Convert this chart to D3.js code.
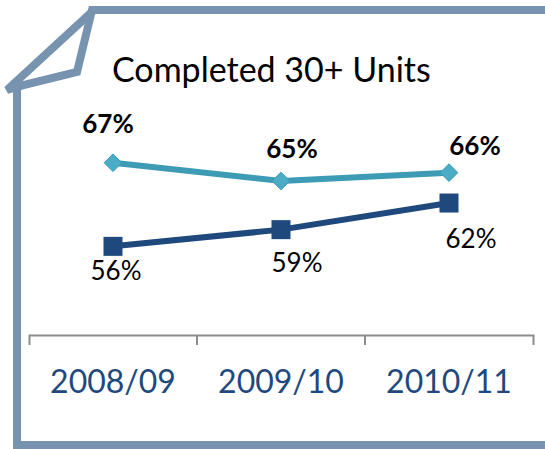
<!DOCTYPE html>
<html>
<head>
<meta charset="utf-8">
<script src="https://cdn.jsdelivr.net/npm/d3@7"></script>
<style>
  body { margin: 0; background: #fff; }
  svg { display: block; font-family: Lato, "Open Sans", sans-serif; }
</style>
</head>
<body>
<svg width="545" height="449"></svg>
<script>
var years = ["2008/09", "2009/10", "2010/11"];
var upperValues = [67.4, 65.0, 66.1];   // light teal, diamond markers
var lowerValues = [56.4, 58.6, 62.1];   // navy, square markers
var titleText = "Completed 30+ Units";

// manual label nudges (like excel hand placed labels)
var upperNudge = [[-5, -30], [11, -23], [26, -18]];
var lowerNudge = [[3, 34], [16, 42], [22, 45]];

var svg = d3.select("svg");
var frameColor = "#7793B0";

// page frame with folded corner
svg.append("path")
    .attr("d", "M600,10 L92,10 L77,72 L20,86 L17,86 L17,445 L600,445")
    .attr("fill", "none")
    .attr("stroke", frameColor)
    .attr("stroke-width", 8)
    .attr("stroke-linejoin", "miter");
svg.append("path")
    .attr("d", "M94,10 L7,90 L21,86")
    .attr("fill", "none")
    .attr("stroke", frameColor)
    .attr("stroke-width", 8)
    .attr("stroke-linejoin", "miter");

svg.append("text")
    .attr("x", 112)
    .attr("y", 82)
    .attr("font-size", 34)
    .attr("fill", "#000")
    .text(titleText);

var x = d3.scaleBand().domain(years).range([29, 533]).padding(0);
var y = d3.scaleLinear().domain([45, 70]).range([333, 143]);
var cx = function (d, i) { return x(years[i]) + x.bandwidth() / 2; };

// x axis
var axisY = 335;
var axis = svg.append("g")
    .attr("transform", "translate(0," + axisY + ")")
    .call(d3.axisBottom(x).tickSize(0).tickSizeOuter(10).tickPadding(0));
axis.select(".domain").attr("stroke", "#8c8c8c").attr("stroke-width", 2);
axis.selectAll(".tick text")
    .attr("y", 58)
    .attr("dy", 0)
    .attr("font-size", 32)
    .attr("font-family", "Lato, 'Open Sans', sans-serif")
    .attr("fill", "#1F497D");
axis.selectAll(".boundary")
    .data(years.slice(1))
    .enter()
    .append("line")
    .attr("class", "boundary")
    .attr("x1", function (d) { return x(d); })
    .attr("x2", function (d) { return x(d); })
    .attr("y1", 0)
    .attr("y2", 10)
    .attr("stroke", "#8c8c8c")
    .attr("stroke-width", 2);

var line = d3.line().x(cx).y(function (d) { return y(d); });

// lower series
svg.append("path")
    .datum(lowerValues)
    .attr("d", line)
    .attr("fill", "none")
    .attr("stroke", "#1F497D")
    .attr("stroke-width", 6);
svg.selectAll(".sq")
    .data(lowerValues)
    .enter()
    .append("rect")
    .attr("class", "sq")
    .attr("x", function (d, i) { return cx(d, i) - 9.5; })
    .attr("y", function (d) { return y(d) - 9.5; })
    .attr("width", 19)
    .attr("height", 19)
    .attr("fill", "#1F497D");

// upper series
svg.append("path")
    .datum(upperValues)
    .attr("d", line)
    .attr("fill", "none")
    .attr("stroke", "#3D9BB5")
    .attr("stroke-width", 6);
svg.selectAll(".dia")
    .data(upperValues)
    .enter()
    .append("path")
    .attr("class", "dia")
    .attr("d", d3.symbol().type(d3.symbolDiamond2).size(200))
    .attr("transform", function (d, i) { return "translate(" + cx(d, i) + "," + y(d) + ")"; })
    .attr("fill", "#4BACC6")
    .attr("stroke", "#3D9BB5")
    .attr("stroke-width", 1);

// labels
svg.selectAll(".ulab")
    .data(upperValues)
    .enter()
    .append("text")
    .attr("class", "ulab")
    .attr("x", function (d, i) { return cx(d, i) + upperNudge[i][0]; })
    .attr("y", function (d, i) { return y(d) + upperNudge[i][1]; })
    .attr("text-anchor", "middle")
    .attr("font-size", 26)
    .attr("font-weight", "bold")
    .attr("fill", "#000")
    .text(function (d) { return Math.round(d) + "%"; });

svg.selectAll(".llab")
    .data(lowerValues)
    .enter()
    .append("text")
    .attr("class", "llab")
    .attr("x", function (d, i) { return cx(d, i) + lowerNudge[i][0]; })
    .attr("y", function (d, i) { return y(d) + lowerNudge[i][1]; })
    .attr("text-anchor", "middle")
    .attr("font-size", 26)
    .attr("fill", "#000")
    .text(function (d) { return Math.round(d) + "%"; });
</script>
</body>
</html>
